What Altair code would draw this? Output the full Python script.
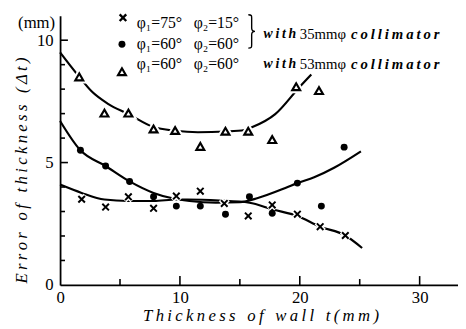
import altair as alt
import pandas as pd

# ---------------- data ----------------
cross_x = [1.8, 3.8, 5.7, 7.8, 9.7, 11.7, 13.7, 15.7, 17.7, 19.8, 21.7, 23.8]
cross_y = [3.50, 3.18, 3.60, 3.13, 3.63, 3.83, 3.33, 2.82, 3.27, 2.89, 2.38, 2.02]

circle_x = [1.7, 3.8, 5.8, 7.8, 9.7, 11.7, 13.8, 15.8, 17.7, 19.8, 21.8, 23.7]
circle_y = [5.50, 4.86, 4.23, 3.60, 3.22, 3.22, 2.89, 3.60, 2.93, 4.16, 3.22, 5.63]

tri_x = [1.6, 3.7, 5.7, 7.8, 9.6, 11.7, 13.8, 15.7, 17.7, 19.7, 21.6]
tri_y = [8.50, 7.02, 7.02, 6.37, 6.31, 5.66, 6.28, 6.28, 5.94, 8.10, 7.94]

cross_curve_x = [0, 1.8, 3.7, 5.7, 7.8, 9.7, 10.6, 13.3, 15.8, 17.7, 19.8, 21.7, 23.8, 25.2]
cross_curve_y = [4.10, 3.76, 3.49, 3.43, 3.43, 3.49, 3.49, 3.45, 3.36, 3.09, 2.82, 2.38, 2.02, 1.51]

circle_curve_x = [0, 1.7, 3.8, 5.8, 7.8, 9.2, 10.8, 13.0, 15.0, 16.5, 18.8, 19.8, 21.2, 22.9, 25.1]
circle_curve_y = [6.70, 5.50, 4.86, 4.23, 3.76, 3.56, 3.43, 3.36, 3.38, 3.55, 3.96, 4.16, 4.40, 4.80, 5.46]

tri_curve_x = [0, 1.6, 2.65, 4.0, 5.7, 7.8, 9.6, 11.5, 13.8, 15.4, 16.0, 17.95, 20.0, 20.96]
tri_curve_y = [9.50, 8.50, 7.90, 7.40, 6.98, 6.45, 6.30, 6.24, 6.27, 6.33, 6.44, 6.98, 8.10, 8.60]

x_labels = [0, 10, 20, 30]
y_labels = [0, 5, 10]
x_ticks_major = [10, 20, 30]
x_ticks_minor = [5, 15, 25]
y_ticks_major = [5, 10]
y_ticks_minor = [1, 2, 3, 4, 6, 7, 8, 9]

legend_rows = ["φ\u2081=75°", "φ\u2081=60°", "φ\u2081=60°"]
legend_rows2 = ["φ\u2082=15°", "φ\u2082=60°", "φ\u2082=60°"]
collimators = ["35mmφ", "53mmφ"]

# ---------------- styling ----------------
SERIF = "'Liberation Serif', 'Times New Roman', 'DejaVu Serif', serif"
W, H = 405, 274
XPATH = "M-1,-1L1,1M-1,1L1,-1"
BRACE = ("M-0.2,-1 C0,-1 0,-0.95 0,-0.8 L0,-0.2 C0,-0.05 0.05,0 0.2,0 "
         "C0.05,0 0,0.05 0,0.2 L0,0.8 C0,0.95 0,1 -0.2,1")


def sp(s, gap="\u2009", word="\u2002\u2009"):
    return word.join(gap.join(w) for w in s.split(" "))


xs = alt.Scale(domain=[0, 33.2], nice=False, zero=False)
ys = alt.Scale(domain=[0, 11], nice=False, zero=False)

X = alt.X(
    "t:Q", scale=xs,
    axis=alt.Axis(values=x_labels, ticks=False, grid=False, domainColor="black",
                  domainWidth=1.8, labelFont=SERIF, labelFontSize=17, labelColor="black",
                  labelPadding=5, labelFlush=False,
                  title=sp("Thickness of wall t(mm)"),
                  titleFont=SERIF, titleFontStyle="italic", titleFontWeight="normal",
                  titleFontSize=17, titleColor="black", titleX=204, titleY=31,
                  titleBaseline="middle", titleAlign="center"),
)
Y = alt.Y(
    "e:Q", scale=ys,
    axis=alt.Axis(values=y_labels, ticks=False, grid=False, domainColor="black",
                  domainWidth=1.8, labelFont=SERIF, labelFontSize=17, labelColor="black",
                  labelPadding=7, labelFlush=False,
                  title=sp("Error of thickness (Δt)"),
                  titleFont=SERIF, titleFontStyle="italic", titleFontWeight="normal",
                  titleFontSize=17, titleColor="black", titleX=-39, titleY=157,
                  titleAngle=-90, titleBaseline="middle", titleAlign="center"),
)


def df(xv, yv):
    return pd.DataFrame({"t": xv, "e": yv})


def line(xv, yv):
    return alt.Chart(df(xv, yv)).mark_line(
        color="black", strokeWidth=2.2, interpolate="monotone").encode(x=X, y=Y)


lines = line(cross_curve_x, cross_curve_y) + line(circle_curve_x, circle_curve_y) + line(tri_curve_x, tri_curve_y)

cross_halo = alt.Chart(df(cross_x, cross_y)).mark_point(
    shape=XPATH, size=60, filled=False, stroke="white", strokeWidth=5, opacity=1).encode(x=X, y=Y)
tri_halo = alt.Chart(df(tri_x, tri_y)).mark_point(
    shape="triangle-up", size=70, filled=True, fill="white", stroke="white", strokeWidth=6, opacity=1).encode(x=X, y=Y)

crosses = alt.Chart(df(cross_x, cross_y)).mark_point(
    shape=XPATH, size=45, filled=False, stroke="black", strokeWidth=2, opacity=1).encode(x=X, y=Y)
circles = alt.Chart(df(circle_x, circle_y)).mark_point(
    shape="circle", size=50, filled=True, color="black", opacity=1).encode(x=X, y=Y)
tris = alt.Chart(df(tri_x, tri_y)).mark_point(
    shape="triangle-up", size=64, filled=True, fill="white", stroke="black", strokeWidth=2.2, opacity=1).encode(x=X, y=Y)

# inward ticks
xt_major = alt.Chart(pd.DataFrame({"t": x_ticks_major})).mark_rule(color="black", strokeWidth=1.6).encode(
    x=X, y=alt.value(H), y2=alt.value(H - 9))
xt_minor = alt.Chart(pd.DataFrame({"t": x_ticks_minor})).mark_rule(color="black", strokeWidth=1.6).encode(
    x=X, y=alt.value(H), y2=alt.value(H - 6))
yt_major = alt.Chart(pd.DataFrame({"e": y_ticks_major})).mark_rule(color="black", strokeWidth=1.6).encode(
    y=Y, x=alt.value(0), x2=alt.value(8))
yt_minor = alt.Chart(pd.DataFrame({"e": y_ticks_minor})).mark_rule(color="black", strokeWidth=1.6).encode(
    y=Y, x=alt.value(0), x2=alt.value(5))

one = pd.DataFrame({"k": [0]})


def label(txt, x, y, size=15, style="normal", weight="normal", align="left"):
    return alt.Chart(one).mark_text(
        text=txt, fontSize=size, font=SERIF, fontStyle=style, fontWeight=weight,
        align=align, baseline="middle", color="black").encode(x=alt.value(x), y=alt.value(y))


def sym(shape, x, y, **kw):
    return alt.Chart(one).mark_point(shape=shape, opacity=1, **kw).encode(x=alt.value(x), y=alt.value(y))


texts = [
    label("(mm)", -5, 7, size=17, align="right"),
    sym(XPATH, 64, 2, size=45, filled=False, stroke="black", strokeWidth=2.4),
    sym("circle", 63, 29, size=50, filled=True, color="black"),
    sym("triangle-up", 63, 57, size=64, filled=True, fill="white", stroke="black", strokeWidth=2.2),
    sym(BRACE, 195, 16, size=1156, filled=False, stroke="black", strokeWidth=1.4),
]
row_y = [7, 29, 49]
for i in range(3):
    texts.append(label(legend_rows[i], 78, row_y[i], size=16))
    texts.append(label(legend_rows2[i], 136, row_y[i], size=16))
for yy, c in zip([19, 49], collimators):
    texts.append(label(sp("with"), 207, yy, size=14, style="italic", weight="bold"))
    texts.append(label(c, 244, yy, size=15))
    texts.append(label(sp("collimator"), 296, yy, size=15, style="italic", weight="bold"))

chart = alt.layer(
    lines, cross_halo, tri_halo, crosses, circles, tris,
    xt_major, xt_minor, yt_major, yt_minor, *texts
).properties(
    width=W, height=H,
    autosize=alt.AutoSizeParams(type="none"),
    padding={"left": 53, "top": 5, "right": 0, "bottom": 42},
    background="white",
).configure_view(stroke=None)

chart.save("out.html", embed_options={"renderer": "svg", "actions": False})
